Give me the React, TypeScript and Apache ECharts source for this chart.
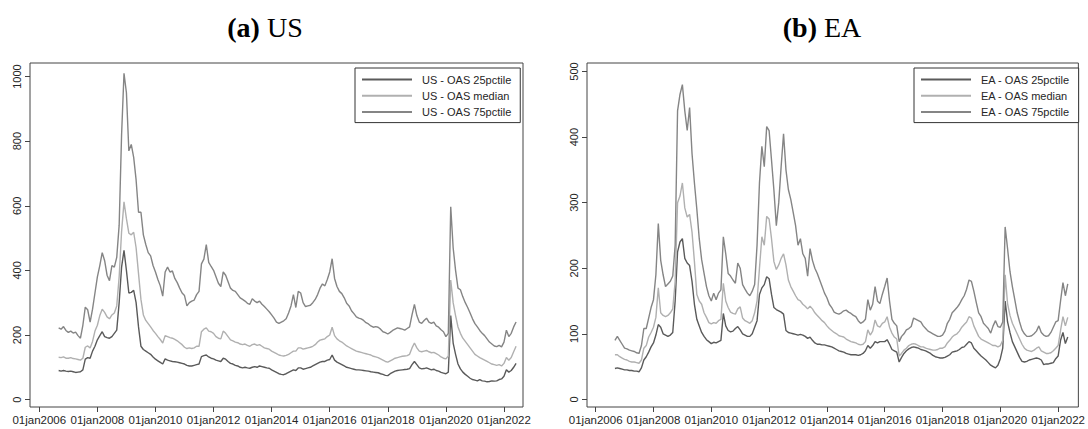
import React, { useEffect, useRef } from "react";
import * as echarts from "echarts";

// ---------- data (monthly, first value = first month) ----------
const US_FIRST_MONTH = "2006-09";
const EA_FIRST_MONTH = "2006-09";

const X_TICK_YEARS = [2006, 2008, 2010, 2012, 2014, 2016, 2018, 2020, 2022];
const US_Y_TICKS = [0, 200, 400, 600, 800, 1000];
const EA_Y_TICKS = [0, 100, 200, 300, 400, 500];

const US_NAMES = ["US - OAS 25pctile", "US - OAS median", "US - OAS 75pctile"];
const EA_NAMES = ["EA - OAS 25pctile", "EA - OAS median", "EA - OAS 75pctile"];

const US_P25 = [
  90, 88, 90, 88,
  87, 88, 86, 84, 85, 86, 92, 125, 130, 128, 150, 165,
  185, 198, 210, 195, 192, 190, 195, 205, 215, 300, 410, 462,
  400, 330, 332, 338, 300, 225, 165, 155, 150, 145, 140, 132,
  125, 120, 115, 110, 126, 122, 120, 118, 117, 116, 114, 112,
  110, 106, 104, 104, 106, 108, 110, 133, 136, 138, 132, 128,
  126, 122, 120, 118, 128, 125, 118, 112, 110, 106, 104, 100,
  98, 100, 98, 97, 100, 102, 100, 104, 102, 100, 98, 97,
  92, 88, 84, 80, 78, 77, 80, 84, 88, 92, 90, 98,
  98, 94, 96, 98, 100, 104, 108, 112, 116, 118, 118, 122,
  124, 138, 122, 116, 112, 108, 104, 100, 98, 96, 94, 92,
  92, 91, 90, 89, 88, 86, 85, 84, 83, 80, 78, 75,
  74, 80, 84, 88, 90, 91, 92, 93, 94, 96, 108, 118,
  108, 98, 95, 96, 98, 95, 92, 94, 90, 88, 84, 82,
  80, 85, 260, 175, 140, 110, 95, 85, 78, 72, 66, 62,
  60, 58, 62, 58, 57, 55, 56, 58, 57, 58, 62, 64,
  72, 92, 85, 90, 100, 112,
];

const US_P50 = [
  131, 130, 132, 128,
  128, 130, 127, 126, 124, 122, 128, 162, 166, 160, 180, 212,
  230, 260, 280, 270, 256, 250, 262, 268, 290, 380, 520, 612,
  560, 515, 510, 518, 470, 390, 310, 262, 245, 235, 225, 214,
  205, 195, 186, 175, 198, 195, 192, 190, 186, 182, 176, 170,
  162, 158, 160, 158, 160, 165, 165, 210, 218, 222, 212, 210,
  205, 195, 190, 188, 212, 205, 195, 185, 182, 178, 176, 172,
  170, 172, 168, 165, 170, 172, 168, 170, 165, 160, 158, 156,
  150, 146, 142, 138, 136, 135, 137, 140, 145, 150, 150, 160,
  160, 156, 158, 160, 162, 165, 170, 178, 184, 186, 188, 195,
  200, 224, 198, 188, 182, 178, 172, 166, 162, 158, 154, 150,
  148, 146, 144, 142, 140, 138, 134, 132, 130, 126, 122, 118,
  116, 120, 124, 128, 130, 132, 134, 135, 136, 140, 160, 175,
  160, 150, 148, 150, 152, 148, 145, 146, 142, 138, 132, 128,
  126, 135, 370, 300, 260, 225, 205, 190, 180, 170, 160, 150,
  140, 135, 130, 126, 122, 118, 114, 110, 108, 106, 108, 104,
  112, 130, 122, 130, 148, 165,
];

const US_P75 = [
  222, 218, 226, 214,
  208, 212, 206, 209, 198, 190, 230, 286, 278, 240, 280, 330,
  380, 415, 455, 430, 385, 368, 415, 410, 440, 540, 820, 1010,
  950, 770, 790, 750, 680, 580, 580, 510, 480, 455, 445, 415,
  395, 372, 352, 320, 395, 410, 395, 398, 375, 362, 345, 330,
  322, 290, 300, 305, 308, 325, 335, 420, 435, 480, 425, 412,
  400, 380, 360, 350, 395, 385, 365, 345, 338, 335, 325, 315,
  310, 305, 298, 295, 312, 305, 300, 305, 295, 288, 280, 272,
  262, 252, 240, 236, 240, 244, 250, 268, 290, 325, 285, 335,
  330, 300, 288, 290, 292, 300, 310, 325, 345, 358, 352, 372,
  395, 436, 375, 350, 335, 328, 315, 298, 290, 275, 266, 256,
  252, 250, 245, 238, 234, 228, 224, 226, 224, 218, 210, 207,
  203, 208, 214, 218, 222, 220, 218, 215, 220, 225, 262, 295,
  260, 240, 236, 245, 252, 240, 236, 240, 228, 224, 216, 210,
  195, 205, 597, 470, 400, 345, 340, 318, 300, 285, 268, 250,
  235, 225, 214, 205, 198, 188, 178, 172, 166, 164, 168, 163,
  178, 215, 195, 205, 225, 240,
];

const EA_P25 = [
  47, 48, 47, 46,
  45, 45, 44, 44, 43, 43, 42, 48, 60, 65, 72, 80,
  86, 98, 114, 110, 100, 98, 96, 98, 102, 150, 225, 240,
  245, 215, 208, 204, 180, 145, 122, 112, 102, 96, 91, 88,
  85, 87, 86, 88, 90, 131, 112, 105, 103, 104, 108, 111,
  106, 100, 98, 96, 96, 100, 110, 120, 160, 170, 175, 187,
  184, 160, 140, 137, 135, 133, 130, 105, 102, 101, 100, 99,
  98, 99, 98, 96, 93, 95, 90, 86, 84, 84, 83, 83,
  82, 81, 80, 78, 76, 74, 73, 72, 70, 69, 68, 68,
  68, 67, 68, 70, 74, 82, 78, 82, 88, 86, 88, 88,
  88, 91, 84, 76, 74, 72, 57, 64, 70, 74, 77, 79,
  80, 79, 78, 76, 75, 74, 72, 70, 67, 65, 64, 63,
  63, 64, 66, 68, 72, 73, 74, 76, 79, 80, 84, 88,
  86, 78, 74, 70, 66, 63, 60, 56, 52, 50, 48, 52,
  62, 78, 150, 118, 102, 88, 80, 72, 64, 58, 57, 58,
  60, 61, 62, 63, 62, 60, 53, 54, 54, 55, 56, 62,
  66, 90, 102, 85, 95,
];

const EA_P50 = [
  68, 68, 65, 63,
  61, 60, 58, 57, 57, 56, 55, 60, 78, 82, 95, 102,
  110, 125, 170, 132, 128, 126, 128, 132, 138, 180, 300, 310,
  330, 292, 278, 282, 255, 210, 160, 150, 145, 132, 125, 117,
  115, 117, 116, 120, 122, 177, 150, 140, 133, 131, 130, 138,
  141, 124, 120, 118, 116, 120, 132, 150, 200, 248, 235, 279,
  275, 245, 210, 198, 205, 215, 222, 205, 182, 172, 165, 158,
  152, 150, 145, 142, 138, 142, 138, 132, 128, 124, 120, 117,
  112, 108, 105, 102, 100, 97, 96, 95, 92, 90, 88, 87,
  86, 84, 83, 84, 88, 106, 98, 104, 121, 112, 110, 116,
  118, 126, 110, 101, 95, 92, 66, 70, 75, 78, 82, 84,
  85, 84, 82, 80, 80, 78, 77, 76, 75, 75, 76, 78,
  78, 80, 86, 90, 95, 98, 100, 104, 110, 114, 118, 126,
  124, 112, 104, 96, 92, 90, 88, 86, 84, 82, 82, 80,
  82, 90, 190, 146, 128, 116, 108, 100, 92, 84, 78, 75,
  74, 73, 75, 78, 80, 74, 72, 70, 70, 71, 74, 78,
  82, 105, 126, 112, 125,
];

const EA_P75 = [
  90, 96, 90, 84,
  78, 77, 75, 74, 73, 71, 70, 82, 108, 108, 124, 140,
  152, 190, 268, 212, 190, 172, 176, 180, 188, 235, 440, 465,
  480, 440, 410, 445, 375, 330, 290, 245, 213, 192, 172, 158,
  150, 162, 152, 162, 167, 248, 222, 192, 188, 182, 177, 208,
  200, 175, 168, 162, 158, 165, 175, 235, 330, 386, 355, 416,
  410, 365, 319, 265, 300, 355, 405, 350, 320, 305, 285, 265,
  235, 245, 222, 215, 188, 230, 212, 200, 192, 182, 172, 162,
  155, 145, 140, 133, 131, 130, 132, 135, 136, 133, 131, 128,
  126, 120, 116, 118, 122, 152, 136, 145, 172, 150, 146, 160,
  172, 185, 150, 122, 116, 112, 88, 96, 100, 106, 108, 111,
  124, 122, 120, 118, 112, 108, 104, 102, 100, 98, 96, 96,
  98, 104, 116, 122, 132, 136, 140, 145, 152, 158, 168, 182,
  180, 165, 148, 132, 126, 116, 112, 108, 101, 112, 120, 111,
  110, 118, 263, 230, 195, 172, 152, 132, 118, 106, 100, 96,
  96, 97, 100, 104, 112, 102, 98, 96, 97, 102, 110, 118,
  120, 150, 178, 158, 176,
];

// ---------- helpers ----------
// month positions expressed as decimal years (x = year + (month-1)/12)
function monthYears(first: string, n: number): number[] {
  const [y, m] = first.split("-").map(Number);
  const out: number[] = [];
  for (let i = 0; i < n; i++) out.push(y + (m - 1 + i) / 12);
  return out;
}

const SANS = '"Liberation Sans", Arial, Helvetica, sans-serif';
const SERIF = '"Liberation Serif", "Times New Roman", serif';
const COLORS = ["#5a5a5a", "#b0b0b0", "#858585"];
const TEXT = "#262626";
const FRAME = "#444444";

export default function App() {
  const ref = useRef<HTMLDivElement>(null);

  useEffect(() => {
    document.body.style.margin = "0";
    if (!ref.current) return;
    const chart = echarts.init(ref.current, null, { renderer: "svg" });

    const usX = monthYears(US_FIRST_MONTH, US_P25.length);
    const eaX = monthYears(EA_FIRST_MONTH, EA_P25.length);

    const xAxis = (gridIndex: number, min: number, max: number) => ({
      type: "value",
      gridIndex,
      min,
      max,
      axisLine: { show: false, onZero: false },
      axisTick: {
        show: true,
        length: 5,
        customValues: X_TICK_YEARS,
        lineStyle: { color: FRAME, width: 1 },
      },
      axisLabel: {
        customValues: X_TICK_YEARS,
        formatter: (v: number) => "01jan" + Math.round(v),
        fontSize: 11.5,
        fontFamily: SANS,
        color: TEXT,
        margin: 7,
        hideOverlap: false,
      },
      splitLine: { show: false },
    });

    const yAxis = (gridIndex: number, min: number, max: number, ticks: number[]) => ({
      type: "value",
      gridIndex,
      min,
      max,
      axisLine: { show: false },
      axisTick: {
        show: true,
        length: 5,
        customValues: ticks,
        lineStyle: { color: FRAME, width: 1 },
      },
      axisLabel: {
        customValues: ticks,
        formatter: (v: number) => String(v),
        rotate: 90,
        fontSize: 11,
        fontFamily: SANS,
        color: TEXT,
        margin: 8,
      },
      splitLine: { show: false },
    });

    const mk = (name: string, xs: number[], vals: number[], idx: number, color: string) => ({
      type: "line",
      name,
      xAxisIndex: idx,
      yAxisIndex: idx,
      data: xs.map((d, i) => [d, vals[i]]),
      showSymbol: false,
      symbol: "none",
      lineStyle: { color, width: 1.4 },
      itemStyle: { color },
      z: 2,
    });

    const legend = (left: number, names: string[]) => ({
      show: true,
      data: names,
      left,
      top: 68,
      orient: "vertical",
      selectedMode: false,
      itemWidth: 50,
      itemHeight: 14,
      itemGap: 5,
      padding: [6, 9, 5, 6],
      borderColor: "#333",
      borderWidth: 1,
      backgroundColor: "#fff",
      itemStyle: { opacity: 0 },
      textStyle: { fontSize: 11, fontFamily: SANS, color: TEXT, padding: [0, 0, 0, 5] },
    });

    const title = (x: number, label: string, name: string) => ({
      type: "text",
      x,
      y: 27,
      style: {
        text: "{b|" + label + "} " + name,
        fill: "#000",
        font: "28px " + SERIF,
        align: "center",
        verticalAlign: "middle",
        rich: {
          b: { fontWeight: "bold", fontSize: 28, fontFamily: SERIF, fill: "#000" },
        },
      },
    });

    chart.setOption({
      animation: false,
      backgroundColor: "#fff",
      grid: [
        { left: 30, top: 63, width: 493, height: 344, show: true, borderColor: FRAME, borderWidth: 1, backgroundColor: "transparent" },
        { left: 587, top: 63, width: 495, height: 344, show: true, borderColor: FRAME, borderWidth: 1, backgroundColor: "transparent" },
      ],
      xAxis: [xAxis(0, 2005.68, 2022.655), xAxis(1, 2005.7, 2022.7)],
      yAxis: [yAxis(0, -23, 1042, US_Y_TICKS), yAxis(1, -11.7, 513, EA_Y_TICKS)],
      legend: [legend(355, US_NAMES), legend(914, EA_NAMES)],
      series: [
        mk(US_NAMES[0], usX, US_P25, 0, COLORS[0]),
        mk(US_NAMES[1], usX, US_P50, 0, COLORS[1]),
        mk(US_NAMES[2], usX, US_P75, 0, COLORS[2]),
        mk(EA_NAMES[0], eaX, EA_P25, 1, COLORS[0]),
        mk(EA_NAMES[1], eaX, EA_P50, 1, COLORS[1]),
        mk(EA_NAMES[2], eaX, EA_P75, 1, COLORS[2]),
      ],
      graphic: [title(265, "(a)", "US"), title(822, "(b)", "EA")],
    });

    return () => chart.dispose();
  }, []);

  return <div ref={ref} style={{ width: 1088, height: 429 }} />;
}
